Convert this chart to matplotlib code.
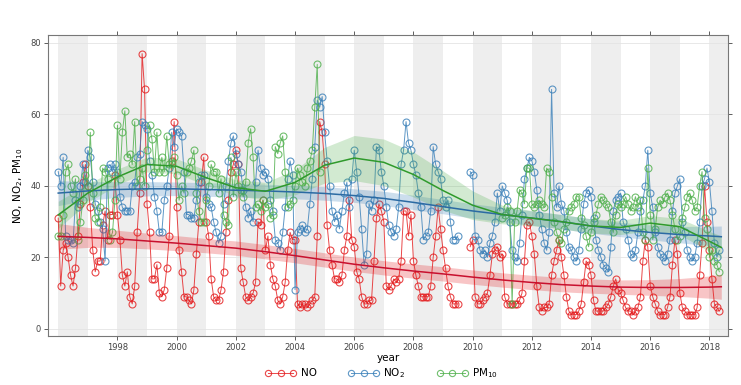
import numpy as np
import matplotlib
matplotlib.use("Agg")
import matplotlib.pyplot as plt
from matplotlib.lines import Line2D

# monthly means, Jan 1996 .. May 2018 (None = no data)
start_year = 1996

no = [
    31, 12, 22, 24, 20, 15, 12, 17, 26, 35, 41, 46,
    40, 34, 22, 16, 19, 19, 29, 33, 25, 32, 32, 43,
    32, 25, 15, 12, 16, 9, 7, 12, 27, 38, 77, 67,
    35, 27, 14, 14, 18, 10, 9, 11, 17, 26, 47, 58,
    34, 22, 16, 9, 9, 8, 7, 11, 21, 30, 41, 48,
    30, 26, 14, 9, 8, 8, 11, 16, 27, 36, 44, 46,
    50, 46, 17, 13, 9, 8, 9, 10, 13, 30, 29, 36,
    22, 26, 18, 14, 12, 8, 7, 9, 13, 22, 27, 25,
    25, 7, 6, 7, 7, 6, 7, 8, 9, 26, 58, 55,
    46, 29, 22, 18, 14, 14, 13, 15, 22, 26, 36, 25,
    23, 16, 14, 9, 7, 7, 8, 8, 19, 31, 35, 33,
    30, 12, 11, 12, 14, 13, 14, 19, 33, 33, 26, 32,
    19, 15, 12, 9, 9, 9, 9, 12, 20, 26, 34, 28,
    22, 17, 12, 9, 7, 7, 7, None, None, None, None, 23,
    25, 9, 7, 7, 8, 9, 10, 15, 21, 22, 23, 20,
    21, 9, 7, 7, 7, 7, 7, 8, 10, 19, 29, 30,
    26, 21, 12, 6, 5, 6, 6, 7, 15, 19, 22, 25,
    20, 15, 9, 5, 4, 4, 4, 5, 7, 13, 19, 18,
    15, 8, 5, 5, 5, 5, 6, 7, 9, 12, 14, 11,
    10, 8, 6, 5, 5, 4, 5, 6, 9, 19, 25, 23,
    12, 9, 7, 5, 4, 4, 4, 6, 9, 18, 25, 21,
    10, 6, 5, 4, 4, 4, 4, 6, 15, 24, 40, 30,
    22, 14, 7, 6, 5,
]

no2 = [
    44, 40, 48, 26, 25, 25, 24, 36, 34, 40, 46, 41,
    50, 48, 41, 35, 33, 30, 28, 19, 45, 46, 44, 46,
    44, 37, 34, 33, 33, 33, 40, 41, 48, 49, 58, 57,
    56, 47, 43, 37, 33, 27, 27, 36, 40, 45, 55, 51,
    56, 55, 54, 44, 32, 32, 31, 31, 36, 41, 43, 43,
    37, 35, 34, 30, 27, 24, 26, 35, 40, 47, 52, 54,
    49, 46, 44, 39, 34, 31, 33, 30, 41, 50, 45, 43,
    44, 42, 36, 33, 25, 24, 22, 27, 34, 42, 47, 43,
    11, 27, 28, 29, 27, 28, 35, 42, 51, 64, 62, 65,
    55, 47, 40, 33, 30, 32, 28, 33, 38, 41, 34, 42,
    50, 44, 37, 28, 18, 21, 35, 33, 36, 51, 50, 44,
    40, 34, 29, 27, 26, 28, 34, 46, 50, 58, 52, 50,
    46, 43, 38, 34, 25, 26, 27, 33, 51, 46, 44, 42,
    36, 34, 36, 30, 25, 25, 26, None, None, None, None, 44,
    43, 26, 25, 22, 21, 22, 20, 24, 26, 30, 38, 33,
    40, 38, 36, 30, 22, 20, 19, 24, 32, 42, 45, 48,
    47, 44, 39, 32, 28, 24, 22, 27, 67, 38, 34, 40,
    35, 33, 27, 23, 22, 20, 19, 22, 28, 35, 38, 39,
    37, 31, 25, 22, 20, 18, 17, 16, 23, 33, 36, 37,
    38, 30, 28, 25, 21, 20, 22, 27, 33, 36, 40, 50,
    38, 34, 27, 23, 21, 20, 19, 21, 25, 33, 38, 40,
    42, 30, 27, 22, 20, 19, 20, 24, 30, 40, 42, 45,
    41, 33, 24, 20, 22,
]

pm10 = [
    26, 26, 32, 44, 46, 40, 38, 42, 25, 30, 36, 43,
    40, 55, 38, 31, 30, 34, 45, 44, 42, 25, 27, 36,
    57, 42, 55, 61, 48, 49, 46, 58, 40, 42, 45, 40,
    50, 57, 53, 44, 55, 44, 48, 44, 54, 46, 46, 48,
    43, 36, 40, 38, 44, 45, 47, 50, 38, 33, 30, 30,
    36, 40, 46, 44, 44, 38, 42, 32, 30, 29, 48, 37,
    44, 40, 39, 37, 41, 52, 56, 48, 34, 35, 33, 36,
    34, 35, 31, 32, 51, 49, 52, 54, 44, 34, 35, 36,
    40, 45, 43, 41, 40, 45, 47, 50, 62, 74, 44, None,
    None, None, None, None, None, None, None, None, None, None, None, None,
    None, None, None, None, None, None, None, None, None, None, None, None,
    None, None, None, None, None, None, None, None, None, None, None, None,
    None, None, None, None, None, None, None, None, None, None, None, None,
    None, None, None, None, None, None, None, None, None, None, None, None,
    None, None, None, None, None, None, None, None, None, None, None, None,
    31, 32, 34, 33, 7, 30, 33, 39, 38, 35, 45, 45,
    35, 34, 35, 36, 35, 34, 45, 44, 37, 30, 27, 25,
    24, 28, 30, 33, 34, 35, 37, 37, 31, 29, 26, 23,
    27, 30, 32, 35, 37, 36, 35, 34, 30, 27, 32, 35,
    34, 35, 37, 35, 33, 34, 37, 34, 36, 27, 25, 45,
    32, 25, 28, 34, 36, 35, 37, 38, 36, 32, 28, 25,
    26, 31, 34, 37, 38, 36, 33, 34, 40, 44, 31, 28,
    20, 22, 19, 18, 16,
]

# smooth trend and its uncertainty half-width
trend_years = [1996, 1997, 1998, 1999, 2000, 2001, 2002, 2003, 2004, 2005, 2006, 2007,
               2008, 2009, 2010, 2011, 2012, 2013, 2014, 2015, 2016, 2017, 2018, 2018.4]
no_trend = [25.9, 25.6, 25.2, 24.6, 24.0, 23.3, 22.6, 21.6, 20.5, 19.3, 18.1, 17.1,
            16.2, 15.4, 14.5, 13.7, 13.0, 12.4, 12.0, 11.7, 11.6, 11.6, 11.7, 11.8]
no_band = [3.6, 2.8, 2.4, 2.2, 2.1, 2.0, 2.0, 2.0, 2.0, 2.0, 2.0, 2.0,
           2.0, 2.0, 2.0, 2.0, 2.0, 2.0, 2.0, 2.0, 2.2, 2.5, 3.1, 3.5]
no2_trend = [38.0, 38.6, 39.0, 39.2, 39.2, 39.0, 38.8, 38.6, 38.3, 37.9, 37.3, 36.5,
             35.4, 34.2, 33.0, 32.0, 31.0, 30.0, 28.8, 27.8, 27.0, 26.4, 26.0, 25.8]
no2_band = [3.5, 2.6, 2.2, 2.0, 1.9, 1.9, 1.9, 1.9, 1.9, 1.9, 1.9, 2.0,
            2.0, 2.0, 2.0, 2.0, 2.0, 2.0, 2.0, 2.0, 2.1, 2.3, 2.7, 3.0]
pm10_trend = [31.9, 38.0, 42.5, 46.0, 45.5, 42.3, 39.5, 38.5, 41.0, 45.8, 47.8, 46.6,
              43.2, 38.7, 34.6, 32.0, 31.0, 30.0, 28.8, 28.4, 29.6, 28.6, 24.5, 22.8]
pm10_band = [3.8, 2.6, 2.2, 2.1, 2.1, 2.1, 2.2, 2.5, 3.5, 5.0, 6.3, 6.5,
             6.3, 5.5, 4.0, 2.6, 2.1, 2.0, 2.0, 2.0, 2.1, 2.3, 2.8, 3.2]

series = [
    ("NO", no, no_trend, no_band, "#e41a1c", "#c8102e"),
    ("NO$_2$", no2, no2_trend, no2_band, "#377eb8", "#2b6aa3"),
    ("PM$_{10}$", pm10, pm10_trend, pm10_band, "#4daf4a", "#2f9a2c"),
]

x_min, x_max = 1995.66, 2018.64

fig = plt.figure(figsize=(7.41, 3.85), dpi=100)
ax = fig.add_axes([0.065, 0.127, 0.918, 0.782])

# shade alternate years
for yr in range(1996, 2019, 2):
    ax.axvspan(yr, min(yr + 1, x_max), color="#eeeeee", lw=0, zorder=0)
for v in [0, 20, 40, 60, 80]:
    ax.axhline(v, color="#e4e4e4", lw=0.6, zorder=0.5)

handles = []
for name, vals, tr, band, col, dark in series:
    y = np.array(vals, dtype=float)
    t = start_year + np.arange(len(y)) / 12
    ax.plot(t, y, "-o", color=col, lw=0.7, ms=5, mfc="none", mew=0.8,
            alpha=0.8, zorder=2)
    handles.append(Line2D([], [], color=col, lw=0.7, marker="o", ms=4.5,
                          mfc="none", mew=0.8, alpha=0.8, label=name))

for name, vals, tr, band, col, dark in series:
    ty = np.array(trend_years)
    tr = np.array(tr)
    band = np.array(band)
    ax.fill_between(ty, tr - band, tr + band, color=col, alpha=0.25, lw=0, zorder=3)
    ax.plot(ty, tr, color=dark, lw=1.1, zorder=4)

ax.set_xlim(x_min, x_max)
ax.set_ylim(-2, 82.2)
ax.set_xticks(range(1998, 2019, 2))
ax.set_yticks([0, 20, 40, 60, 80])
ax.tick_params(direction="out", top=True, right=True, labeltop=False,
               labelright=False, labelsize=6, length=3, width=0.6,
               colors="#444444", pad=2)
for sp in ax.spines.values():
    sp.set_color("#777777")
    sp.set_linewidth(0.8)

ax.set_xlabel("year", fontsize=7.5, labelpad=1)
ax.set_ylabel("NO, NO$_2$, PM$_{10}$", fontsize=7.5, labelpad=4)

fig.legend(handles=handles, loc="center", bbox_to_anchor=(0.515, 0.031),
           ncol=3, numpoints=3, frameon=False, fontsize=7.5, handlelength=3.0,
           handletextpad=0.4, columnspacing=3.0)

fig.savefig("out.png", dpi=100)
